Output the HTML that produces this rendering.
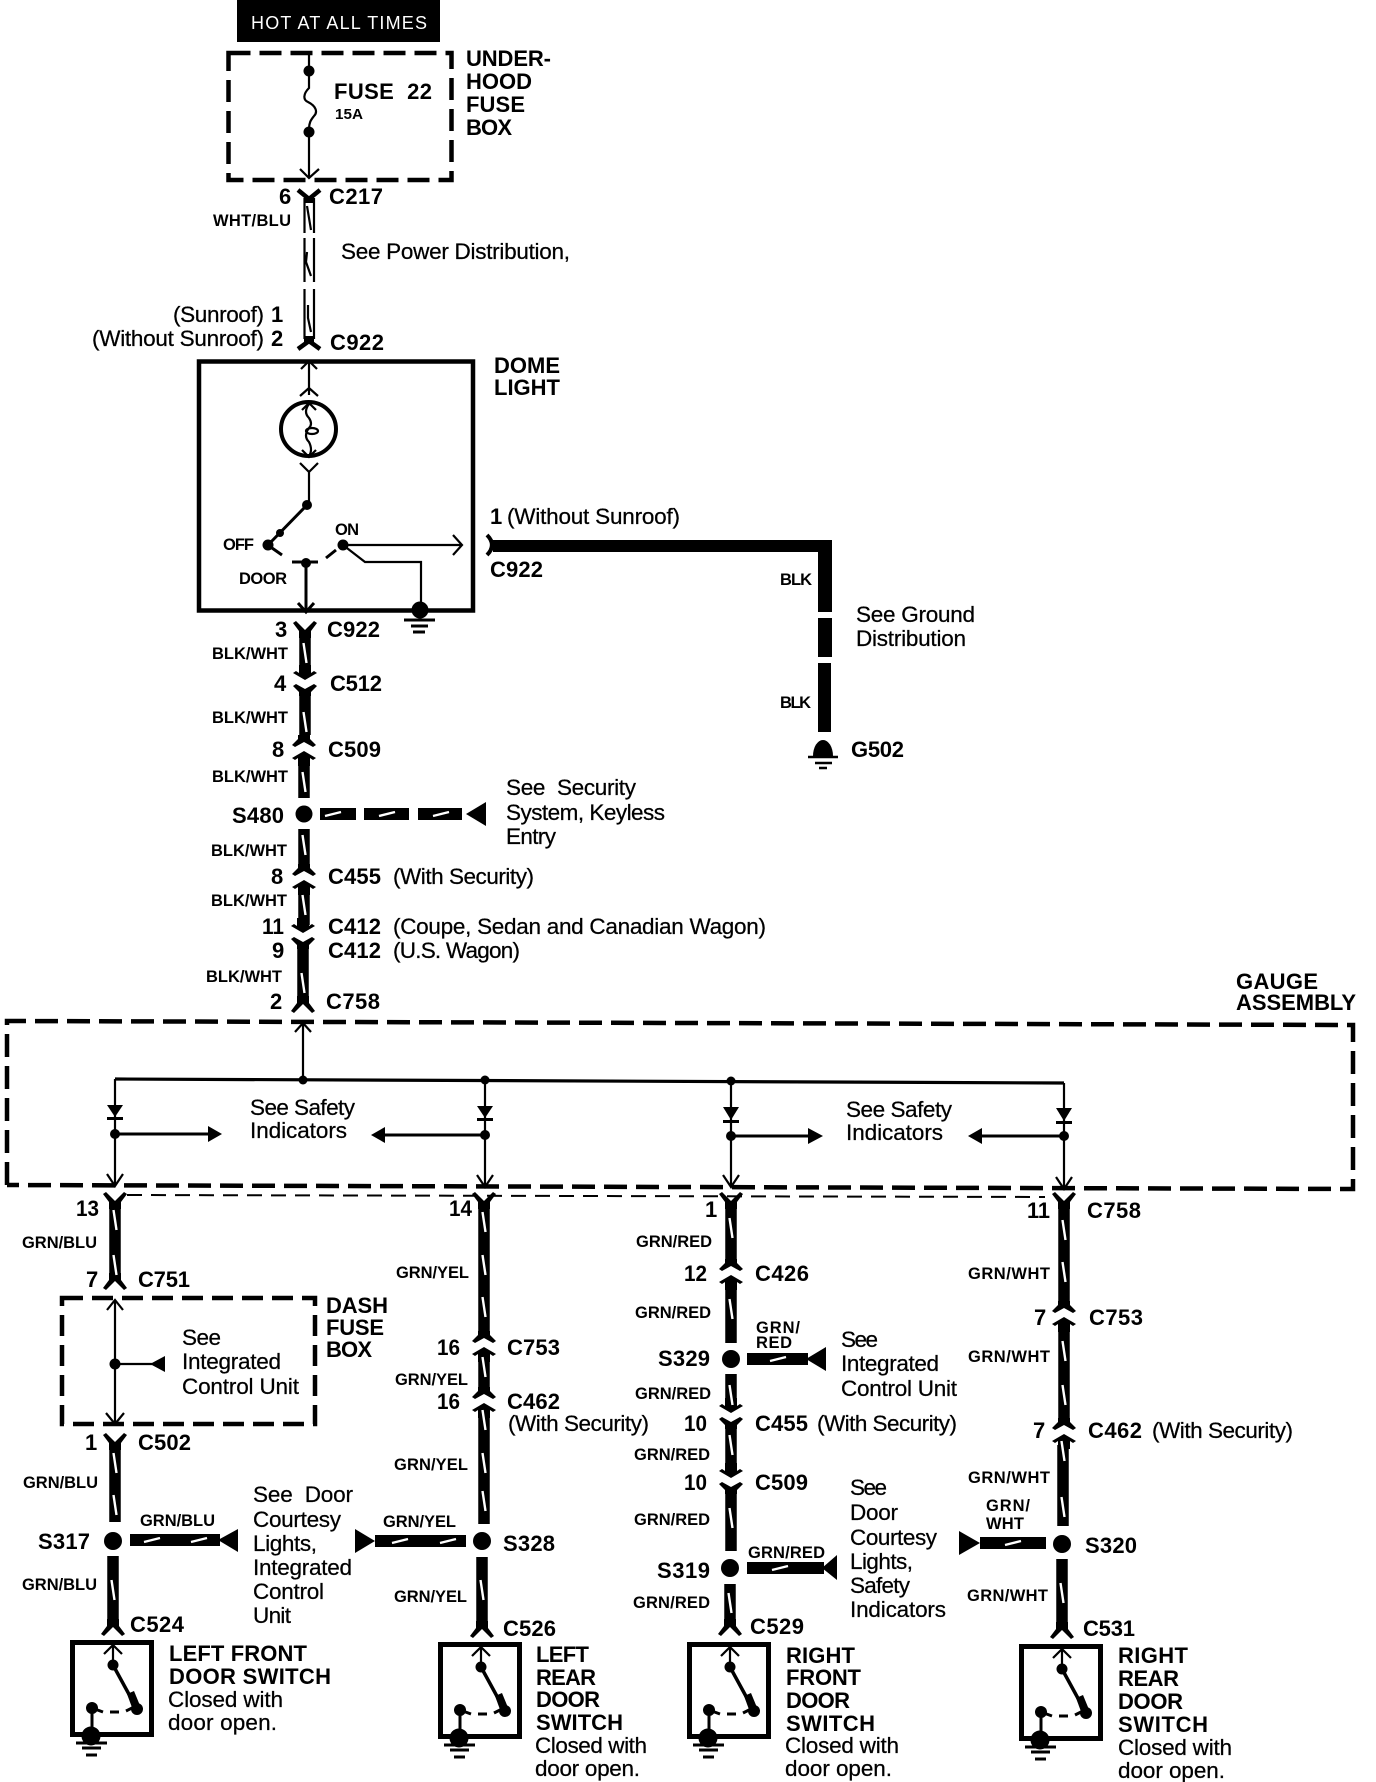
<!DOCTYPE html>
<html><head><meta charset="utf-8"><style>
html,body{margin:0;padding:0;background:#fff}
svg{display:block}
text{font-family:"Liberation Sans",sans-serif;fill:#000}
.b{font-weight:700;font-size:22px}
.r{font-size:22.5px;stroke:#000;stroke-width:.25}
.s{font-weight:700;font-size:16.5px}
.w{fill:none;stroke:#000;stroke-width:11.5}
.t{fill:none;stroke:#000;stroke-width:2.2}
.m{fill:none;stroke:#000;stroke-width:3}
</style></head><body>
<svg xmlns="http://www.w3.org/2000/svg" width="1376" height="1782" viewBox="0 0 1376 1782">
<defs>
<polygon id="Y" points="-12,-9 -9,-11 0,-2 9,-11 12,-9 6,-1 6,6 -6,6 -6,-1"/>
<polygon id="A" points="-12,9 -9,11 0,2 9,11 12,9 6,1 6,-6 -6,-6 -6,1"/>
<g id="cu">
<polygon points="-6,-9 6,-9 6,-5 12,1 9,3 0,-2 -9,3 -12,1 -6,-5"/>
<polygon points="0,7 12,14 9,16 6,14 6,22 -6,22 -6,14 -9,16 -12,14"/>
</g>
<line id="sl" x1="-1.5" y1="-10" x2="1.5" y2="10" stroke="#fff" stroke-width="2.4"/>
<line id="hs" x1="-8" y1="2" x2="8" y2="-2" stroke="#fff" stroke-width="2.4"/>
<g id="sw">
<rect x="72.5" y="1642.5" width="79" height="92" fill="none" stroke="#000" stroke-width="5"/>
<path d="M104 1654L113 1645L122 1654M113 1645V1665" class="t"/>
<circle cx="113" cy="1665" r="5.5"/>
<line x1="113" y1="1665" x2="137" y2="1709" stroke="#000" stroke-width="3.5"/>
<polygon points="127,1694 134,1691 141,1708 134,1713"/>
<circle cx="137" cy="1709" r="6"/>
<circle cx="92" cy="1708" r="6"/>
<path d="M92 1708L103 1712M110 1712H119M126 1711L134 1707" class="m"/>
<line x1="92" y1="1708" x2="92" y2="1730" stroke="#000" stroke-width="3"/>
<circle cx="91" cy="1736" r="9.5"/>
<path d="M76 1743H107M82 1748H101M86 1755H97" class="m"/>
</g>
</defs>

<!-- header -->
<rect x="237" y="0" width="203" height="42"/>
<text x="251" y="29" font-size="18" textLength="176" style="fill:#fff">HOT AT ALL TIMES</text>

<!-- underhood fuse box -->
<rect x="228.5" y="53" width="223" height="127" fill="none" stroke="#000" stroke-width="4.5" stroke-dasharray="22 9"/>
<path d="M309 55V88c-6 6-6 12-1 14c8 4 10 10 6 14c-3 4-5 6-5 14V178" class="t"/>
<circle cx="309" cy="71" r="5.5"/><circle cx="309" cy="132" r="5.5"/>
<path d="M300 169L309 178L319 169" class="t"/>
<text x="334" y="99" class="b" textLength="98">FUSE&#160;&#160;22</text>
<text x="335" y="119" font-weight="700" font-size="15" textLength="28" lengthAdjust="spacingAndGlyphs">15A</text>
<text x="466" y="66" class="b" textLength="85">UNDER-</text>
<text x="466" y="89" class="b" textLength="66">HOOD</text>
<text x="466" y="112" class="b" textLength="59">FUSE</text>
<text x="466" y="135" class="b" textLength="46">BOX</text>

<!-- WHT/BLU double wire -->
<polyline points="298,190 309,199 320,190" fill="none" stroke="#000" stroke-width="4.5"/>
<rect x="304" y="197" width="10" height="6"/>
<path d="M304.5 198V233M314 198V233M304.5 238V282M314 238V282M304.5 289V339M314 289V339" class="t"/>
<path d="M307 206L311 230M307 252L306 262L311 276M308 305L308 318L311 332" class="t"/>
<rect x="304" y="336" width="10" height="6"/>
<polyline points="298,349 309,341 320,349" fill="none" stroke="#000" stroke-width="4.5"/>
<text x="279" y="204" class="b">6</text>
<text x="329" y="204" class="b" textLength="54">C217</text>
<text x="213" y="226" class="s" textLength="78">WHT/BLU</text>
<text x="341" y="259" class="r" textLength="229">See Power Distribution,</text>
<text x="173" y="322" class="r" textLength="91">(Sunroof)</text><text x="271" y="322" class="b">1</text>
<text x="92" y="346" class="r" textLength="172">(Without Sunroof)</text><text x="271" y="346" class="b">2</text>
<text x="330" y="350" class="b" textLength="54">C922</text>

<!-- dome light -->
<rect x="199" y="361.5" width="274" height="249" fill="none" stroke="#000" stroke-width="4.5"/>
<text x="494" y="373" class="b" textLength="66">DOME</text>
<text x="494" y="395" class="b" textLength="66">LIGHT</text>
<path d="M301 369L309 361L317 369M309 361V395M300 396L309 388L318 396" class="t"/>
<ellipse cx="308.5" cy="429" rx="27.5" ry="27" fill="none" stroke="#000" stroke-width="4"/>
<path d="M309 404q-6 8 0 14q4 6 0 10q-6 8 0 14q4 8 0 14" class="t"/>
<ellipse cx="312" cy="431" rx="6" ry="3" class="t"/>
<path d="M302 410L309 403L316 410M302 450L309 457L316 450" class="t"/>
<path d="M300 463L309 472L318 463M309 472V505" class="t"/>
<circle cx="307" cy="505" r="5"/>
<line x1="307" y1="505" x2="268" y2="545" stroke="#000" stroke-width="3"/>
<circle cx="280" cy="533" r="4"/><circle cx="268" cy="545" r="5.5"/>
<circle cx="343" cy="545" r="5.5"/><circle cx="306" cy="563" r="5"/>
<path d="M272 548L282 555M292 562H318M326 558L336 550" class="m"/>
<text x="223" y="550" class="s" textLength="31">OFF</text>
<text x="335" y="535" class="s" textLength="24">ON</text>
<text x="239" y="584" class="s" textLength="48">DOOR</text>
<path d="M343 545H462M453 535L462 545L453 555M343 545L365 562H421V608" class="t"/>
<path d="M306 563V610M298 603L306 612L314 603" class="m"/>
<circle cx="420" cy="610" r="8.5"/>
<path d="M404 620H435M411 626H428M413 632H425" class="m"/>

<!-- ground branch -->
<text x="490" y="524" class="b">1</text>
<text x="507" y="524" class="r" textLength="173">(Without Sunroof)</text>
<text x="490" y="577" class="b" textLength="53">C922</text>
<path d="M487 535Q497 545 487 555" fill="none" stroke="#000" stroke-width="4"/>
<rect x="493" y="540" width="339" height="12"/>
<rect x="818" y="540" width="14" height="72"/>
<rect x="818" y="618" width="14" height="39"/>
<rect x="818" y="663" width="13" height="69"/>
<text x="780" y="585" class="s" textLength="32">BLK</text>
<text x="780" y="708" class="s" textLength="31">BLK</text>
<text x="856" y="622" class="r" textLength="119">See Ground</text>
<text x="856" y="646" class="r" textLength="110">Distribution</text>
<path d="M813 756A10 16 0 0 1 833 756Z"/>
<path d="M808 757H838M815 763H832M819 768H827" stroke="#000" stroke-width="2.5" fill="none"/>
<text x="851" y="757" class="b" textLength="53">G502</text>

<!-- main BLK/WHT column -->
<use href="#Y" x="305" y="632"/>
<path d="M305 632V672" class="w"/>
<use href="#cu" transform="translate(305,687) scale(1,-1)"/>
<path d="M305 694V735" class="w"/>
<use href="#cu" x="304" y="744"/>
<path d="M304 760V798M304 829V867" class="w"/>
<use href="#cu" x="304" y="873"/>
<path d="M304 890V925" class="w"/>
<use href="#cu" transform="translate(303,940) scale(1,-1)"/>
<path d="M303 947V1000" class="w"/>
<use href="#A" x="303" y="1002"/>
<use href="#sl" x="305" y="653"/><use href="#sl" x="305" y="722"/><use href="#sl" x="304" y="782"/><use href="#sl" x="304" y="845"/><use href="#sl" x="304" y="905"/><use href="#sl" x="303" y="983"/>
<text x="275" y="637" class="b">3</text><text x="327" y="637" class="b" textLength="53">C922</text>
<text x="212" y="659" class="s" textLength="76">BLK/WHT</text>
<text x="274" y="691" class="b">4</text><text x="330" y="691" class="b" textLength="52">C512</text>
<text x="212" y="723" class="s" textLength="76">BLK/WHT</text>
<text x="272" y="757" class="b">8</text><text x="328" y="757" class="b" textLength="53">C509</text>
<text x="212" y="782" class="s" textLength="76">BLK/WHT</text>
<text x="232" y="823" class="b" textLength="52">S480</text>
<circle cx="304" cy="814" r="8.5"/>
<rect x="320" y="808" width="36" height="12"/><rect x="364" y="808" width="45" height="12"/><rect x="418" y="808" width="44" height="12"/>
<use href="#hs" x="333" y="814"/><use href="#hs" x="387" y="814"/><use href="#hs" x="441" y="814"/>
<polygon points="466,814 486,802 486,826"/>
<text x="506" y="795" class="r" textLength="130">See&#160;&#160;Security</text>
<text x="506" y="820" class="r" textLength="159">System, Keyless</text>
<text x="506" y="844" class="r" textLength="50">Entry</text>
<text x="211" y="856" class="s" textLength="76">BLK/WHT</text>
<text x="271" y="884" class="b">8</text><text x="328" y="884" class="b" textLength="53">C455</text>
<text x="393" y="884" class="r" textLength="141">(With Security)</text>
<text x="211" y="906" class="s" textLength="76">BLK/WHT</text>
<text x="262" y="934" class="b" textLength="22" lengthAdjust="spacingAndGlyphs">11</text><text x="328" y="934" class="b" textLength="53">C412</text>
<text x="393" y="934" class="r" textLength="373">(Coupe, Sedan and Canadian Wagon)</text>
<text x="272" y="958" class="b">9</text><text x="328" y="958" class="b" textLength="53">C412</text>
<text x="393" y="958" class="r" textLength="127">(U.S. Wagon)</text>
<text x="206" y="982" class="s" textLength="76">BLK/WHT</text>
<text x="270" y="1009" class="b">2</text><text x="326" y="1009" class="b" textLength="54">C758</text>

<!-- gauge assembly -->
<text x="1236" y="989" class="b" textLength="82">GAUGE</text>
<text x="1236" y="1010" class="b" textLength="120">ASSEMBLY</text>
<path d="M7 1185V1021L1353 1025V1189L7 1185" fill="none" stroke="#000" stroke-width="4.5" stroke-dasharray="23 9"/>
<path d="M127 1195L1045 1197" fill="none" stroke="#000" stroke-width="2" stroke-dasharray="15 9"/>
<path d="M115 1079L1064 1083" fill="none" stroke="#000" stroke-width="3.2"/>
<path d="M303 1023V1080M295 1032L303 1023L311 1032" class="t"/>
<path d="M115 1079V1186M107 1174L115 1186L123 1174" class="t"/>
<path d="M485 1080V1187M477 1175L485 1187L493 1175" class="t"/>
<path d="M731 1081V1187M723 1175L731 1187L739 1175" class="t"/>
<path d="M1064 1083V1189M1056 1177L1064 1189L1072 1177" class="t"/>
<circle cx="303" cy="1080" r="4.5"/><circle cx="485" cy="1080" r="4.5"/><circle cx="731" cy="1081" r="4.5"/>
<polygon points="107,1105 123,1105 115,1117"/><rect x="107" y="1117" width="16" height="3"/>
<polygon points="477,1106 493,1106 485,1118"/><rect x="477" y="1118" width="16" height="3"/>
<polygon points="723,1107 739,1107 731,1120"/><rect x="723" y="1120" width="16" height="3"/>
<polygon points="1056,1108 1072,1108 1064,1121"/><rect x="1056" y="1121" width="16" height="3"/>
<circle cx="115" cy="1134" r="5"/><circle cx="485" cy="1135" r="5"/><circle cx="731" cy="1136" r="5"/><circle cx="1064" cy="1136" r="5"/>
<path d="M115 1134H208M485 1135H385M731 1136H808M1064 1136H982" class="m"/>
<polygon points="208,1126 208,1142 222,1134"/><polygon points="385,1127 385,1143 371,1135"/>
<polygon points="808,1128 808,1144 823,1136"/><polygon points="982,1128 982,1144 968,1136"/>
<text x="250" y="1115" class="r" textLength="105">See Safety</text>
<text x="250" y="1138" class="r" textLength="97">Indicators</text>
<text x="846" y="1117" class="r" textLength="106">See Safety</text>
<text x="846" y="1140" class="r" textLength="97">Indicators</text>

<!-- column A -->
<use href="#Y" x="115" y="1203"/>
<path d="M115 1203V1280" class="w"/>
<use href="#A" x="115" y="1279"/>
<use href="#sl" x="115" y="1220"/><use href="#sl" x="115" y="1265"/>
<text x="76" y="1216" class="b" textLength="23" lengthAdjust="spacingAndGlyphs">13</text>
<text x="22" y="1248" class="s" textLength="75">GRN/BLU</text>
<text x="86" y="1287" class="b">7</text><text x="138" y="1287" class="b" textLength="52">C751</text>
<rect x="62" y="1298" width="253" height="126" fill="none" stroke="#000" stroke-width="4.5" stroke-dasharray="21 9"/>
<text x="326" y="1313" class="b" textLength="62">DASH</text>
<text x="326" y="1335" class="b" textLength="58">FUSE</text>
<text x="326" y="1357" class="b" textLength="46">BOX</text>
<path d="M107 1310L115 1300L123 1310M115 1300V1424M106 1413L115 1424L124 1413M115 1364H152" class="t"/>
<circle cx="115" cy="1364" r="5.5"/>
<polygon points="150,1364 165,1356 165,1372"/>
<text x="182" y="1345" class="r" textLength="39">See</text>
<text x="182" y="1369" class="r" textLength="99">Integrated</text>
<text x="182" y="1394" class="r" textLength="117">Control Unit</text>
<use href="#Y" x="115" y="1444"/>
<path d="M115 1444V1522" class="w"/>
<use href="#sl" x="115" y="1463"/><use href="#sl" x="115" y="1505"/>
<text x="85" y="1450" class="b">1</text><text x="138" y="1450" class="b" textLength="53">C502</text>
<text x="23" y="1488" class="s" textLength="75">GRN/BLU</text>
<text x="140" y="1526" class="s" textLength="75">GRN/BLU</text>
<text x="38" y="1549" class="b" textLength="52">S317</text>
<circle cx="113" cy="1541" r="9"/>
<rect x="130" y="1534" width="90" height="12"/>
<use href="#hs" x="152" y="1540"/><use href="#hs" x="199" y="1540"/>
<polygon points="218,1540 238,1529 238,1552"/>
<path d="M113 1556V1626" class="w"/>
<use href="#A" x="113" y="1625"/>
<use href="#sl" x="113" y="1590"/>
<text x="22" y="1590" class="s" textLength="75">GRN/BLU</text>
<text x="130" y="1632" class="b" textLength="54">C524</text>
<use href="#sw"/>
<text x="169" y="1661" class="b" textLength="138">LEFT FRONT</text>
<text x="169" y="1684" class="b" textLength="162">DOOR SWITCH</text>
<text x="168" y="1707" class="r" textLength="115">Closed with</text>
<text x="168" y="1730" class="r" textLength="109">door open.</text>

<text x="253" y="1502" class="r" textLength="100">See&#160;&#160;Door</text>
<text x="253" y="1527" class="r" textLength="88">Courtesy</text>
<text x="253" y="1551" class="r" textLength="64">Lights,</text>
<text x="253" y="1575" class="r" textLength="99">Integrated</text>
<text x="253" y="1599" class="r" textLength="71">Control</text>
<text x="253" y="1623" class="r" textLength="38">Unit</text>

<!-- column B -->
<use href="#Y" x="484" y="1203"/>
<path d="M484 1203V1334" class="w"/>
<use href="#cu" x="484" y="1340"/>
<path d="M484 1355V1392" class="w"/>
<use href="#cu" x="484" y="1396"/>
<path d="M484 1412V1524" class="w"/>
<use href="#sl" x="484" y="1222"/><use href="#sl" x="484" y="1265"/><use href="#sl" x="484" y="1307"/><use href="#sl" x="484" y="1367"/><use href="#sl" x="484" y="1420"/><use href="#sl" x="484" y="1463"/><use href="#sl" x="484" y="1501"/>
<text x="449" y="1216" class="b" textLength="23" lengthAdjust="spacingAndGlyphs">14</text>
<text x="396" y="1278" class="s" textLength="73">GRN/YEL</text>
<text x="437" y="1355" class="b" textLength="23" lengthAdjust="spacingAndGlyphs">16</text><text x="507" y="1355" class="b" textLength="53">C753</text>
<text x="395" y="1385" class="s" textLength="73">GRN/YEL</text>
<text x="437" y="1409" class="b" textLength="23" lengthAdjust="spacingAndGlyphs">16</text><text x="507" y="1409" class="b" textLength="53">C462</text>
<text x="508" y="1431" class="r" textLength="141">(With Security)</text>
<text x="394" y="1470" class="s" textLength="74">GRN/YEL</text>
<text x="383" y="1527" class="s" textLength="73">GRN/YEL</text>
<circle cx="482" cy="1541" r="9"/>
<text x="503" y="1551" class="b" textLength="52">S328</text>
<rect x="375" y="1535" width="91" height="12"/>
<use href="#hs" x="400" y="1541"/><use href="#hs" x="448" y="1541"/>
<polygon points="375,1541 355,1529 355,1553"/>
<path d="M482 1557V1628" class="w"/>
<use href="#A" x="482" y="1627"/>
<use href="#sl" x="482" y="1590"/>
<text x="394" y="1602" class="s" textLength="73">GRN/YEL</text>
<text x="503" y="1636" class="b" textLength="53">C526</text>
<use href="#sw" transform="translate(368,2)"/>
<text x="536" y="1662" class="b" textLength="53">LEFT</text>
<text x="536" y="1685" class="b" textLength="60">REAR</text>
<text x="536" y="1707" class="b" textLength="64">DOOR</text>
<text x="536" y="1730" class="b" textLength="87">SWITCH</text>
<text x="535" y="1753" class="r" textLength="112">Closed with</text>
<text x="535" y="1776" class="r" textLength="105">door open.</text>

<!-- column C -->
<use href="#Y" x="731" y="1203"/>
<path d="M731 1203V1260" class="w"/>
<use href="#cu" x="731" y="1268"/>
<path d="M731 1285V1343M731 1374V1405" class="w"/>
<use href="#cu" transform="translate(731,1420) scale(1,-1)"/>
<path d="M731 1427V1470" class="w"/>
<use href="#cu" transform="translate(731,1485) scale(1,-1)"/>
<path d="M731 1492V1551M730 1584V1626" class="w"/>
<use href="#A" x="730" y="1625"/>
<use href="#sl" x="731" y="1228"/><use href="#sl" x="731" y="1309"/><use href="#sl" x="731" y="1395"/><use href="#sl" x="731" y="1445"/><use href="#sl" x="731" y="1518"/><use href="#sl" x="730" y="1603"/>
<text x="705" y="1217" class="b">1</text>
<text x="636" y="1247" class="s" textLength="76">GRN/RED</text>
<text x="684" y="1281" class="b" textLength="23" lengthAdjust="spacingAndGlyphs">12</text><text x="755" y="1281" class="b" textLength="54">C426</text>
<text x="635" y="1318" class="s" textLength="76">GRN/RED</text>
<text x="756" y="1333" class="s" textLength="44">GRN/</text>
<text x="756" y="1348" class="s" textLength="36">RED</text>
<circle cx="731" cy="1359" r="9"/>
<text x="658" y="1366" class="b" textLength="52">S329</text>
<rect x="747" y="1353" width="61" height="12"/>
<use href="#hs" x="778" y="1359"/>
<polygon points="806,1359 826,1347 826,1371"/>
<text x="841" y="1347" class="r" textLength="37">See</text>
<text x="841" y="1371" class="r" textLength="98">Integrated</text>
<text x="841" y="1396" class="r" textLength="116">Control Unit</text>
<text x="635" y="1399" class="s" textLength="76">GRN/RED</text>
<text x="684" y="1431" class="b" textLength="23" lengthAdjust="spacingAndGlyphs">10</text><text x="755" y="1431" class="b" textLength="53">C455</text>
<text x="817" y="1431" class="r" textLength="140">(With Security)</text>
<text x="634" y="1460" class="s" textLength="76">GRN/RED</text>
<text x="684" y="1490" class="b" textLength="23" lengthAdjust="spacingAndGlyphs">10</text><text x="755" y="1490" class="b" textLength="53">C509</text>
<text x="634" y="1525" class="s" textLength="76">GRN/RED</text>
<text x="748" y="1558" class="s" textLength="77">GRN/RED</text>
<circle cx="730" cy="1568" r="9"/>
<text x="657" y="1578" class="b" textLength="53">S319</text>
<rect x="747" y="1562" width="77" height="12"/>
<use href="#hs" x="780" y="1568"/>
<polygon points="822,1568 837,1555 837,1580"/>
<text x="633" y="1608" class="s" textLength="77">GRN/RED</text>
<text x="750" y="1634" class="b" textLength="54">C529</text>
<text x="850" y="1495" class="r" textLength="37">See</text>
<text x="850" y="1520" class="r" textLength="48">Door</text>
<text x="850" y="1545" class="r" textLength="87">Courtesy</text>
<text x="850" y="1569" class="r" textLength="63">Lights,</text>
<text x="850" y="1593" class="r" textLength="60">Safety</text>
<text x="850" y="1617" class="r" textLength="96">Indicators</text>
<use href="#sw" transform="translate(617,2)"/>
<text x="786" y="1663" class="b" textLength="69">RIGHT</text>
<text x="786" y="1685" class="b" textLength="75">FRONT</text>
<text x="786" y="1708" class="b" textLength="64">DOOR</text>
<text x="786" y="1731" class="b" textLength="89">SWITCH</text>
<text x="785" y="1753" class="r" textLength="114">Closed with</text>
<text x="785" y="1776" class="r" textLength="107">door open.</text>

<!-- column D -->
<use href="#Y" x="1064" y="1203"/>
<path d="M1064 1203V1302" class="w"/>
<use href="#cu" x="1064" y="1310"/>
<path d="M1064 1327V1420" class="w"/>
<use href="#cu" x="1064" y="1427"/>
<path d="M1063 1445V1526M1062 1559V1629" class="w"/>
<use href="#A" x="1062" y="1628"/>
<use href="#sl" x="1064" y="1230"/><use href="#sl" x="1064" y="1272"/><use href="#sl" x="1064" y="1351"/><use href="#sl" x="1064" y="1395"/><use href="#sl" x="1063" y="1451"/><use href="#sl" x="1063" y="1507"/><use href="#sl" x="1062" y="1593"/>
<text x="1027" y="1218" class="b" textLength="23" lengthAdjust="spacingAndGlyphs">11</text><text x="1087" y="1218" class="b" textLength="54">C758</text>
<text x="968" y="1279" class="s" textLength="82">GRN/WHT</text>
<text x="1034" y="1325" class="b">7</text><text x="1089" y="1325" class="b" textLength="54">C753</text>
<text x="968" y="1362" class="s" textLength="82">GRN/WHT</text>
<text x="1033" y="1438" class="b">7</text><text x="1088" y="1438" class="b" textLength="54">C462</text>
<text x="1152" y="1438" class="r" textLength="141">(With Security)</text>
<text x="968" y="1483" class="s" textLength="82">GRN/WHT</text>
<text x="986" y="1511" class="s" textLength="44">GRN/</text>
<text x="986" y="1529" class="s" textLength="38">WHT</text>
<circle cx="1062" cy="1544" r="9"/>
<text x="1085" y="1553" class="b" textLength="52">S320</text>
<rect x="980" y="1537" width="66" height="12"/>
<use href="#hs" x="1013" y="1543"/>
<polygon points="980,1543 959,1531 959,1555"/>
<text x="967" y="1601" class="s" textLength="81">GRN/WHT</text>
<text x="1083" y="1636" class="b" textLength="52">C531</text>
<use href="#sw" transform="translate(949,4)"/>
<text x="1118" y="1663" class="b" textLength="70">RIGHT</text>
<text x="1118" y="1686" class="b" textLength="61">REAR</text>
<text x="1118" y="1709" class="b" textLength="65">DOOR</text>
<text x="1118" y="1732" class="b" textLength="90">SWITCH</text>
<text x="1118" y="1755" class="r" textLength="114">Closed with</text>
<text x="1118" y="1778" class="r" textLength="107">door open.</text>
</svg>
</body></html>
